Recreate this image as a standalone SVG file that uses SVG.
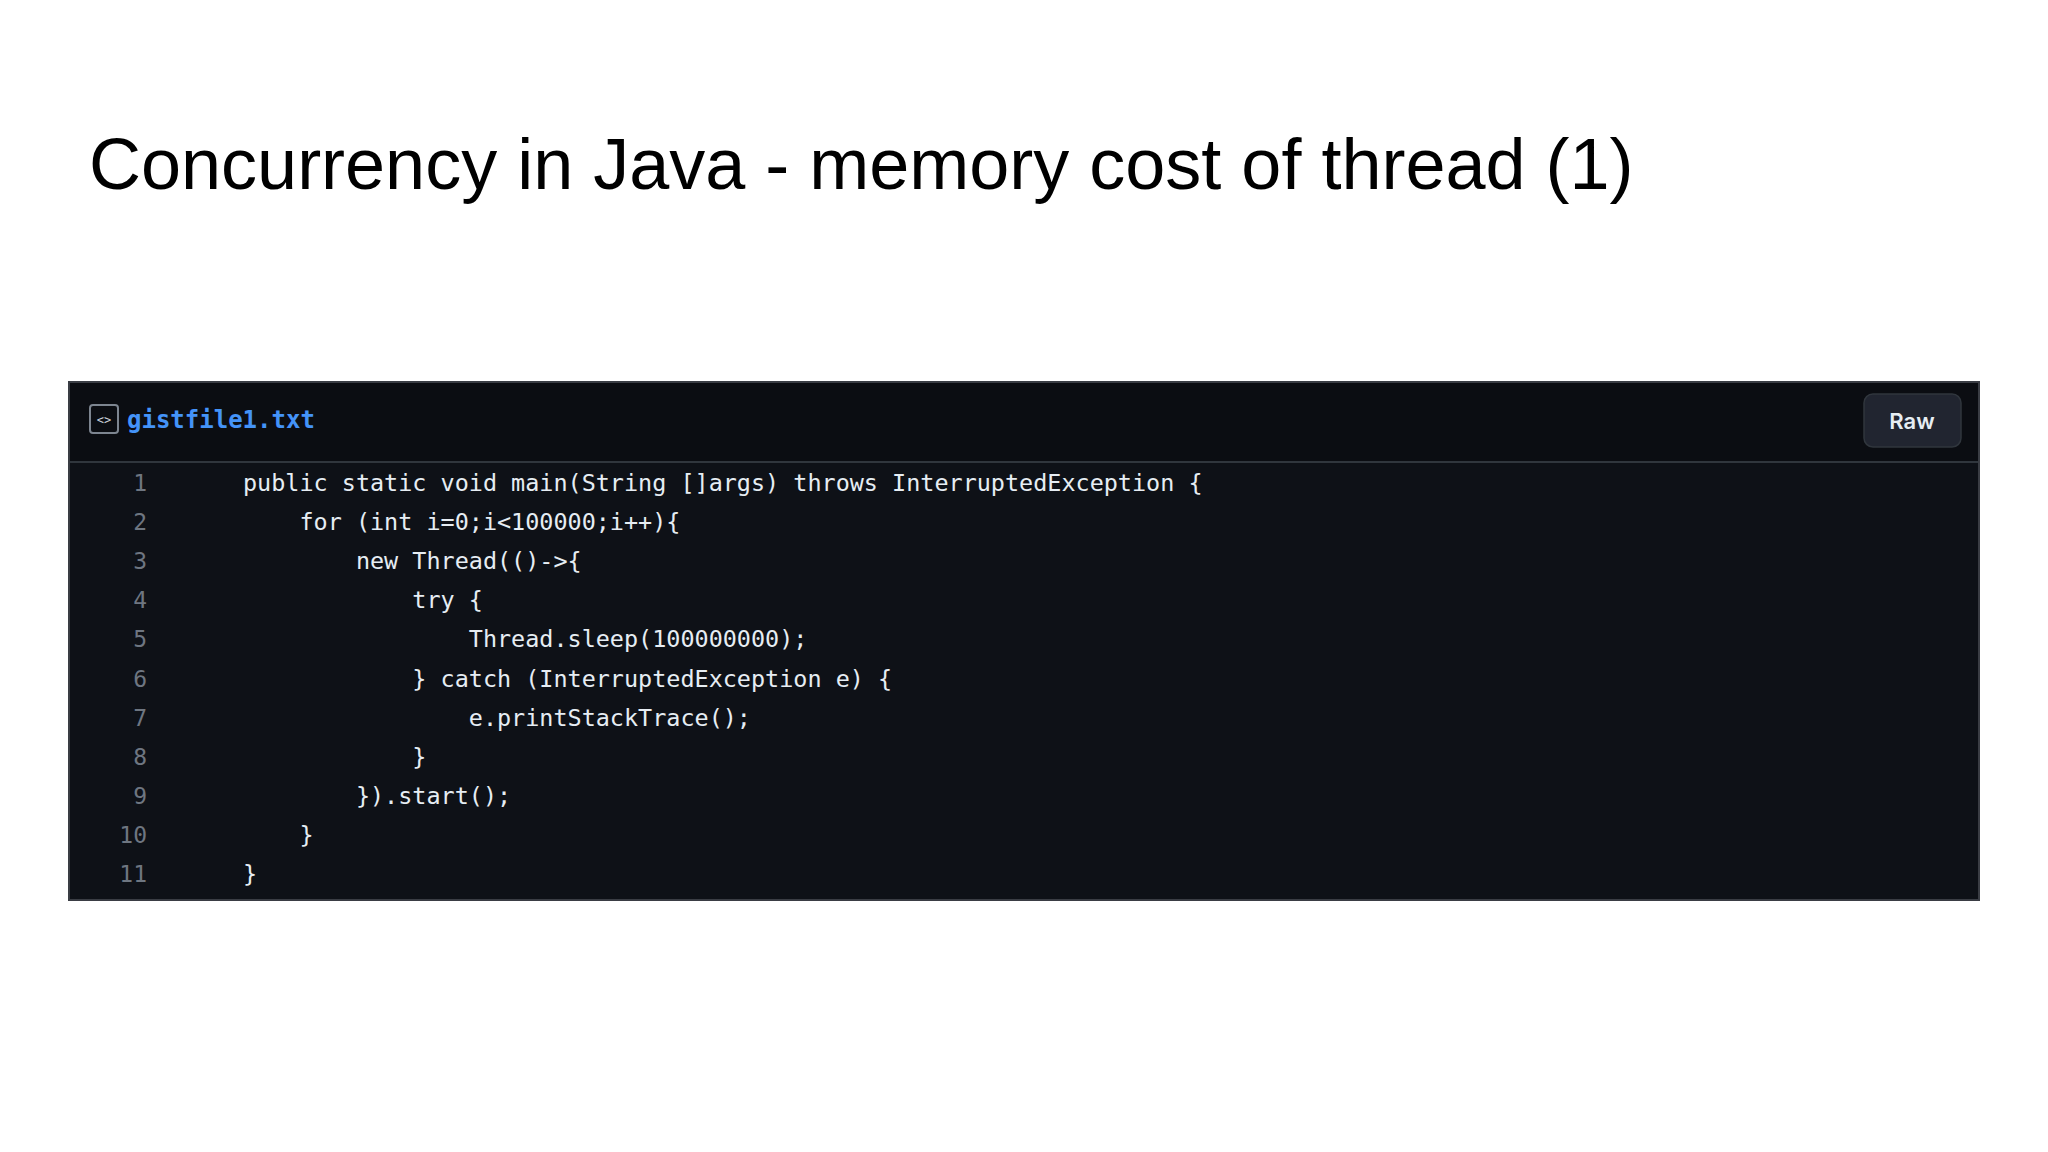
<svg xmlns="http://www.w3.org/2000/svg" width="2048" height="1152" viewBox="0 0 2048 1152">
<style>
.code{font-family:"DejaVu Sans Mono",monospace;font-size:23.45px;fill:#e6edf3;white-space:pre}
.ln{font-family:"DejaVu Sans Mono",monospace;font-size:23px;fill:#6e7681;text-anchor:end}
</style>
<rect width="2048" height="1152" fill="#ffffff"/>
<text x="89" y="189" font-family="Liberation Sans, Arial, sans-serif" font-size="72" fill="#000">Concurrency in Java - memory cost of thread (1)</text>
<g id="gist">
<rect x="69" y="382" width="1910" height="518" fill="#0e1117" stroke="#3a3d44" stroke-width="2"/>
<rect x="70" y="383" width="1908" height="79" fill="#0b0d12"/>
<line x1="70" y1="462" x2="1978" y2="462" stroke="#30363d" stroke-width="2"/>
<rect x="90" y="405" width="28" height="28" rx="3" fill="none" stroke="#7d8590" stroke-width="2"/>
<text x="104" y="424" font-family="DejaVu Sans Mono, monospace" font-size="12" fill="#c9d1d9" text-anchor="middle">&lt;&gt;</text>
<text x="127" y="428" font-family="DejaVu Sans Mono, monospace" font-size="24" font-weight="bold" fill="#4493f8">gistfile1.txt</text>
<rect x="1864" y="394" width="97" height="53" rx="9" fill="#212530" stroke="#30363d" stroke-width="1.5"/>
<text x="1912" y="429" font-family="Inter, Liberation Sans, sans-serif" font-size="22" font-weight="600" fill="#e6edf3" text-anchor="middle">Raw</text>
<g>
<text class="ln" x="147" y="491">1</text>
<text class="ln" x="147" y="530">2</text>
<text class="ln" x="147" y="569">3</text>
<text class="ln" x="147" y="608">4</text>
<text class="ln" x="147" y="647">5</text>
<text class="ln" x="147" y="687">6</text>
<text class="ln" x="147" y="726">7</text>
<text class="ln" x="147" y="765">8</text>
<text class="ln" x="147" y="804">9</text>
<text class="ln" x="147" y="843">10</text>
<text class="ln" x="147" y="882">11</text>
<text class="code" x="243" y="491">public static void main(String []args) throws InterruptedException {</text>
<text class="code" x="243" y="530">    for (int i=0;i&lt;100000;i++){</text>
<text class="code" x="243" y="569">        new Thread(()-&gt;{</text>
<text class="code" x="243" y="608">            try {</text>
<text class="code" x="243" y="647">                Thread.sleep(100000000);</text>
<text class="code" x="243" y="687">            } catch (InterruptedException e) {</text>
<text class="code" x="243" y="726">                e.printStackTrace();</text>
<text class="code" x="243" y="765">            }</text>
<text class="code" x="243" y="804">        }).start();</text>
<text class="code" x="243" y="843">    }</text>
<text class="code" x="243" y="882">}</text>
</g>
</g>
</svg>
